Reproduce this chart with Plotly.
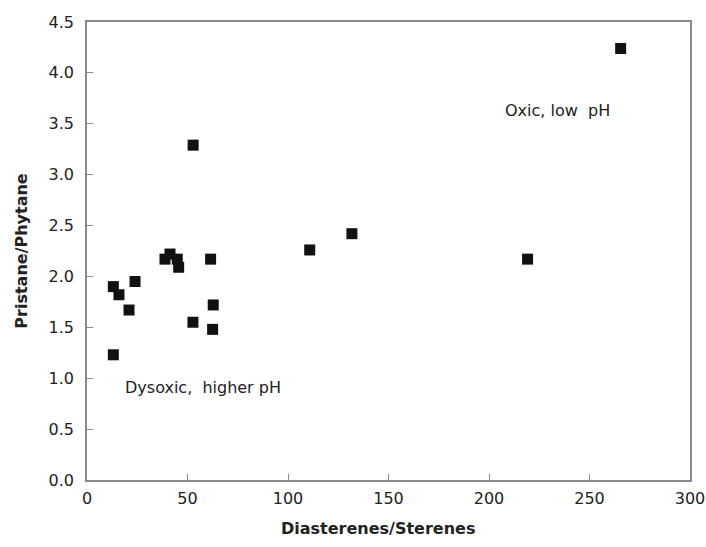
import plotly.graph_objects as go

diasterenes_sterenes = [13.1, 15.9, 23.9, 20.9, 13.1, 38.8, 41.3, 44.9, 45.6, 61.5,
                        62.8, 52.7, 62.5, 110.8, 131.8, 219.2, 265.5, 52.8]
pristane_phytane = [1.90, 1.82, 1.95, 1.67, 1.23, 2.17, 2.22, 2.17, 2.09, 2.17,
                    1.72, 1.55, 1.48, 2.26, 2.42, 2.17, 4.24, 3.29]

x_ticks = [0, 50, 100, 150, 200, 250, 300]
y_ticks = [0.0, 0.5, 1.0, 1.5, 2.0, 2.5, 3.0, 3.5, 4.0, 4.5]
y_tick_labels = [f"{v:.1f}" for v in y_ticks]

annotations_text = ["Oxic, low  pH", "Dysoxic,  higher pH"]
annotations_x = [206.8, 18.1]
annotations_y = [3.63, 0.91]

x_title = "Diasterenes/Sterenes"
y_title = "Pristane/Phytane"

FONT = "DejaVu Sans, sans-serif"
TXT = "#222222"
AXC = "#8a8a8a"

fig = go.Figure()
fig.add_trace(go.Scatter(
    x=diasterenes_sterenes, y=pristane_phytane, mode="markers",
    marker=dict(symbol="square", size=11, color="#111111"),
    showlegend=False, hoverinfo="x+y",
))

for t, ax, ay in zip(annotations_text, annotations_x, annotations_y):
    fig.add_annotation(x=ax, y=ay, text=t, showarrow=False, xanchor="left",
                       yanchor="middle", font=dict(family=FONT, size=16, color=TXT))

# x-axis title (placed slightly left of centre, as in the original)
fig.add_annotation(xref="paper", yref="paper", x=0.482, y=0, yshift=-48,
                   xanchor="center", yanchor="middle", showarrow=False,
                   text=f"<b>{x_title}</b>",
                   font=dict(family=FONT, size=16, color=TXT))

axis_common = dict(
    showline=True, linecolor=AXC, linewidth=1.5, mirror=True,
    showgrid=False, zeroline=False, ticks="inside", ticklen=6,
    tickcolor=AXC, tickfont=dict(family=FONT, size=16, color=TXT),
    automargin=False,
)

fig.update_layout(
    width=706, height=547,
    paper_bgcolor="white", plot_bgcolor="white",
    margin=dict(l=87, r=16, t=22, b=67),
    xaxis=dict(range=[0, 300], tickvals=x_ticks, ticklabelstandoff=3,
               **axis_common),
    yaxis=dict(range=[0, 4.5], tickvals=y_ticks, ticktext=y_tick_labels,
               ticklabelstandoff=8,
               title=dict(text=f"<b>{y_title}</b>", standoff=17,
                          font=dict(family=FONT, size=16, color=TXT)),
               **axis_common),
)

fig.write_html("out.html", config={"displayModeBar": False},
               post_script="document.body.style.margin='0';")
